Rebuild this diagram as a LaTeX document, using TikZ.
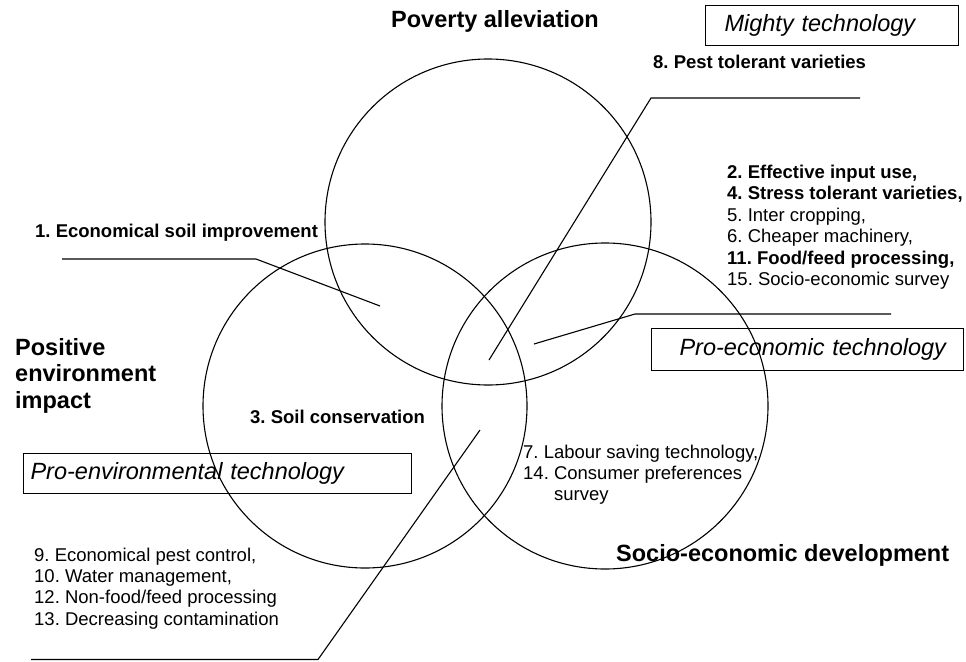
\documentclass[tikz,border=0pt]{standalone}
\usepackage{fontspec}
\setmainfont{Liberation Sans}
\frenchspacing
\begin{document}
\begin{tikzpicture}[x=1pt,y=-1pt,
  ring/.style={draw,circle,line width=1.1pt,minimum size=#1,inner sep=0pt},
  lead/.style={line width=1.1pt},
  head/.style={font=\fontsize{23.5}{26.5}\selectfont\bfseries,anchor=base west,inner sep=0pt,align=left},
  lab/.style={font=\fontsize{18.5}{21.4}\selectfont,anchor=base west,inner sep=0pt,align=left},
  blab/.style={lab,font=\fontsize{18.5}{21.4}\selectfont\bfseries},
  techbox/.style={draw,line width=1.1pt,font=\fontsize{23.5}{27}\selectfont\itshape,anchor=north west,align=left,inner ysep=0pt}
]
\useasboundingbox (0,0) rectangle (966,661);
% circles
\node[ring=326pt] (top) at (488,222) {};
\node[ring=324pt] (left) at (365,406) {};
\node[ring=326pt] (right) at (605,406) {};
% headings (anchor = baseline of last line)
\node[head] (pov) at (391,28) {Poverty alleviation};
\node[head] (env) at (15,408) {Positive\\environment\\impact};
\node[head] (soc) at (616,561) {Socio-economic development};
% technology boxes
\node[techbox,inner xsep=19pt,text width=215pt,minimum height=40pt] (mighty) at (705,5) {Mighty technology};
\node[techbox,inner xsep=28pt,text width=256pt,minimum height=42pt] (proeco) at (651,328) {\mbox{Pro-economic technology}};
\node[techbox,inner xsep=7pt,text width=374pt,minimum height=40pt] (proenv) at (23,453) {Pro-environmental technology};
% labels
\node[blab] (l8) at (653,68) {8. Pest tolerant varieties};
\node[blab] (l1) at (35,237) {1. Economical soil improvement};
\node[blab] (l3) at (250,423) {3. Soil conservation};
\node[lab] (lr) at (727,285.5) {\textbf{2. Effective input use,}\\\textbf{4. Stress tolerant varieties,}\\5. Inter cropping,\\6. Cheaper machinery,\\\textbf{11. Food/feed processing,}\\15. Socio-economic survey};
\node[lab] (l7) at (523,500.8) {7. Labour saving technology,\\14. Consumer preferences\\\hspace*{31pt}survey};
\node[lab] (l9) at (34,625.2) {9. Economical pest control,\\10. Water management,\\12. Non-food/feed processing\\13. Decreasing contamination};
% leader lines
\coordinate (a1) at (62,259);
\coordinate (b1) at (256,259);
\coordinate (e1) at (380,306);
\coordinate (a8) at (860,98);
\coordinate (b8) at (651,98);
\coordinate (e8) at (489,360);
\coordinate (a2) at (891,314);
\coordinate (b2) at (635,314);
\coordinate (e2) at (534,344);
\coordinate (a9) at (31,659.5);
\coordinate (b9) at (318,659.5);
\coordinate (e9) at (480,430);
\draw[lead] (a1) -- (b1) -- (e1);
\draw[lead] (a8) -- (b8) -- (e8);
\draw[lead] (a2) -- (b2) -- (e2);
\draw[lead] (a9) -- (b9) -- (e9);
\end{tikzpicture}
\end{document}
